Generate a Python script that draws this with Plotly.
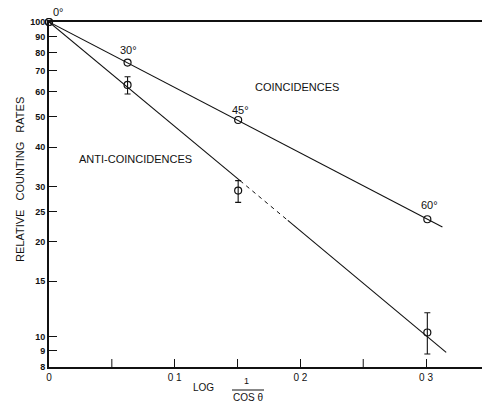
import plotly.graph_objects as go

# ---- data ----
angle_labels = ["0°", "30°", "45°", "60°"]
x_vals = [0.0, 0.0625, 0.1505, 0.301]          # log(1/cos θ)
coinc = [100, 74.3, 48.8, 23.6]
anti = [100, 63.1, 29.1, 10.3]
anti_err_plus = [0, 3.9, 2.2, 1.6]
anti_err_minus = [0, 4.1, 2.4, 1.5]

coinc_fit_x = [0.0, 0.313]
coinc_fit_y = [100, 22.3]
anti_fit_x1 = [0.0, 0.152]
anti_fit_y1 = [100, 31.3]
anti_fit_x2 = [0.152, 0.19]
anti_fit_y2 = [31.3, 23.4]
anti_fit_x3 = [0.19, 0.316]
anti_fit_y3 = [23.4, 8.9]

y_ticks = [8, 9, 10, 15, 20, 25, 30, 40, 50, 60, 70, 80, 90, 100]
x_ticks = [0, 0.1, 0.2, 0.3]
x_ticktext = ["0", "0 1", "0 2", "0 3"]
x_minor = [0.05, 0.15, 0.25]

INK = "#111111"
FONT = "Liberation Sans"

fig = go.Figure()

line_style = dict(color=INK, width=1.1)
fig.add_trace(go.Scatter(x=coinc_fit_x, y=coinc_fit_y, mode="lines", line=line_style,
                         hoverinfo="skip", showlegend=False))
fig.add_trace(go.Scatter(x=anti_fit_x1, y=anti_fit_y1, mode="lines", line=line_style,
                         hoverinfo="skip", showlegend=False))
fig.add_trace(go.Scatter(x=anti_fit_x2, y=anti_fit_y2, mode="lines",
                         line=dict(color=INK, width=1.0, dash="4px,4px"),
                         hoverinfo="skip", showlegend=False))
fig.add_trace(go.Scatter(x=anti_fit_x3, y=anti_fit_y3, mode="lines", line=line_style,
                         hoverinfo="skip", showlegend=False))

marker_style = dict(symbol="circle-open", size=7, color=INK, line=dict(width=1.2, color=INK))
fig.add_trace(go.Scatter(x=x_vals, y=coinc, mode="markers", marker=marker_style,
                         name="Coincidences", showlegend=False, cliponaxis=False))
fig.add_trace(go.Scatter(x=x_vals, y=anti, mode="markers", marker=marker_style,
                         error_y=dict(type="data", symmetric=False, array=anti_err_plus,
                                      arrayminus=anti_err_minus, color=INK,
                                      thickness=1.1, width=3),
                         name="Anti-coincidences", showlegend=False, cliponaxis=False))

# plot geometry in pixels
L, R, T, B = 49, 0, 22, 37
W, H = 482, 404
PW, PH = W - L - R, H - T - B


def px(xp, yp):
    return (xp - L) / PW, (H - B - yp) / PH


def label(text, xp, yp, size=11, xanchor="center"):
    xx, yy = px(xp, yp)
    fig.add_annotation(text=text, x=xx, y=yy, xref="paper", yref="paper",
                       showarrow=False, xanchor=xanchor, yanchor="middle",
                       font=dict(family=FONT, size=size, color=INK))


label("0°", 58, 12)
label("30°", 128, 50)
label("45°", 240, 110)
label("60°", 429, 205)
label("COINCIDENCES", 297, 87)
label("ANTI-COINCIDENCES", 135, 159)

# x-axis title as a fraction
label("LOG", 203, 387, size=10)
label("1", 246, 381, size=9)
label("COS θ", 248, 397, size=10)
x0, y0 = px(232, 390)
x1, _ = px(264, 390)
fig.add_shape(type="line", xref="paper", yref="paper", x0=x0, x1=x1, y0=y0, y1=y0,
              line=dict(color=INK, width=1))

# y title
yx, yy = px(20, 180)
fig.add_annotation(text="RELATIVE   COUNTING   RATES", x=yx, y=yy, xref="paper", yref="paper",
                   showarrow=False, textangle=-90, xanchor="center", yanchor="middle",
                   font=dict(family=FONT, size=11, color=INK))

# minor x ticks
for xm in x_minor:
    fig.add_shape(type="line", xref="x", yref="paper", x0=xm, x1=xm, y0=0, y1=8 / PH,
                  line=dict(color=INK, width=1))

fig.update_xaxes(range=[0, 0.3445], tickvals=x_ticks, ticktext=x_ticktext,
                 ticks="inside", ticklen=8, tickwidth=1, tickcolor=INK,
                 showline=True, linewidth=2, linecolor=INK, mirror=True,
                 showgrid=False, zeroline=False,
                 tickfont=dict(family=FONT, size=10, color=INK))
fig.update_yaxes(type="log", range=[0.90309, 2], tickvals=y_ticks,
                 ticktext=[str(v) for v in y_ticks],
                 ticks="inside", ticklen=8, tickwidth=1, tickcolor=INK,
                 showline=True, linewidth=2, linecolor=INK,
                 showgrid=False, zeroline=False,
                 tickfont=dict(family=FONT, size=9, color=INK, weight="bold"))

fig.update_layout(width=W, height=H, margin=dict(l=L, r=R, t=T, b=B),
                  paper_bgcolor="white", plot_bgcolor="white", showlegend=False)

fig.write_html("out.html")
